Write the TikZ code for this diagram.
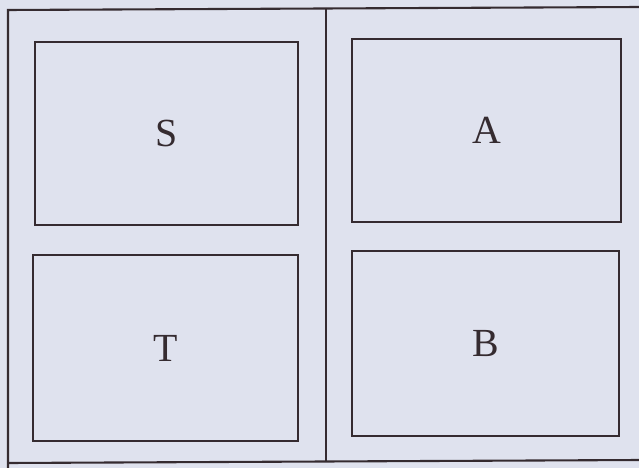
\documentclass[tikz,border=0pt]{standalone}
\usepackage{fontspec}
\setmainfont{Liberation Serif}
\definecolor{paper}{HTML}{DFE2EE}
\definecolor{ink}{HTML}{352B30}
\tikzset{
  frameline/.style={draw=ink, line width=2.1pt},
  panel/.style={draw=ink, line width=2.3pt, rectangle, inner sep=0pt,
    font=\fontsize{40}{42}\selectfont, text=ink}
}
\begin{document}
\begin{tikzpicture}[x=1bp, y=-1bp]
\fill[paper] (0,0) rectangle (639,468);
\useasboundingbox (0,0) rectangle (639,468);
% outer frame (open on the right)
\coordinate (tr) at (640,7);
\coordinate (tl) at (8,10);
\coordinate (bl) at (8,470);
\coordinate (bm) at (8,463);
\coordinate (br) at (640,460);
\coordinate (dt) at (326,8);
\coordinate (db) at (326,461);
\draw[frameline] (tr) -- (tl) -- (bl);
\draw[frameline] (bm) -- (br);
\draw[frameline] (dt) -- (db);
% panels
\node[panel, minimum width=263bp, minimum height=183bp] (S) at (166.5,133.5) {S};
\node[panel, minimum width=269bp, minimum height=183bp] (A) at (486.5,130.5) {A};
\node[panel, minimum width=265bp, minimum height=186bp] (T) at (165.5,348) {T};
\node[panel, minimum width=267bp, minimum height=185bp] (B) at (485.5,343.5) {B};
\end{tikzpicture}
\end{document}
